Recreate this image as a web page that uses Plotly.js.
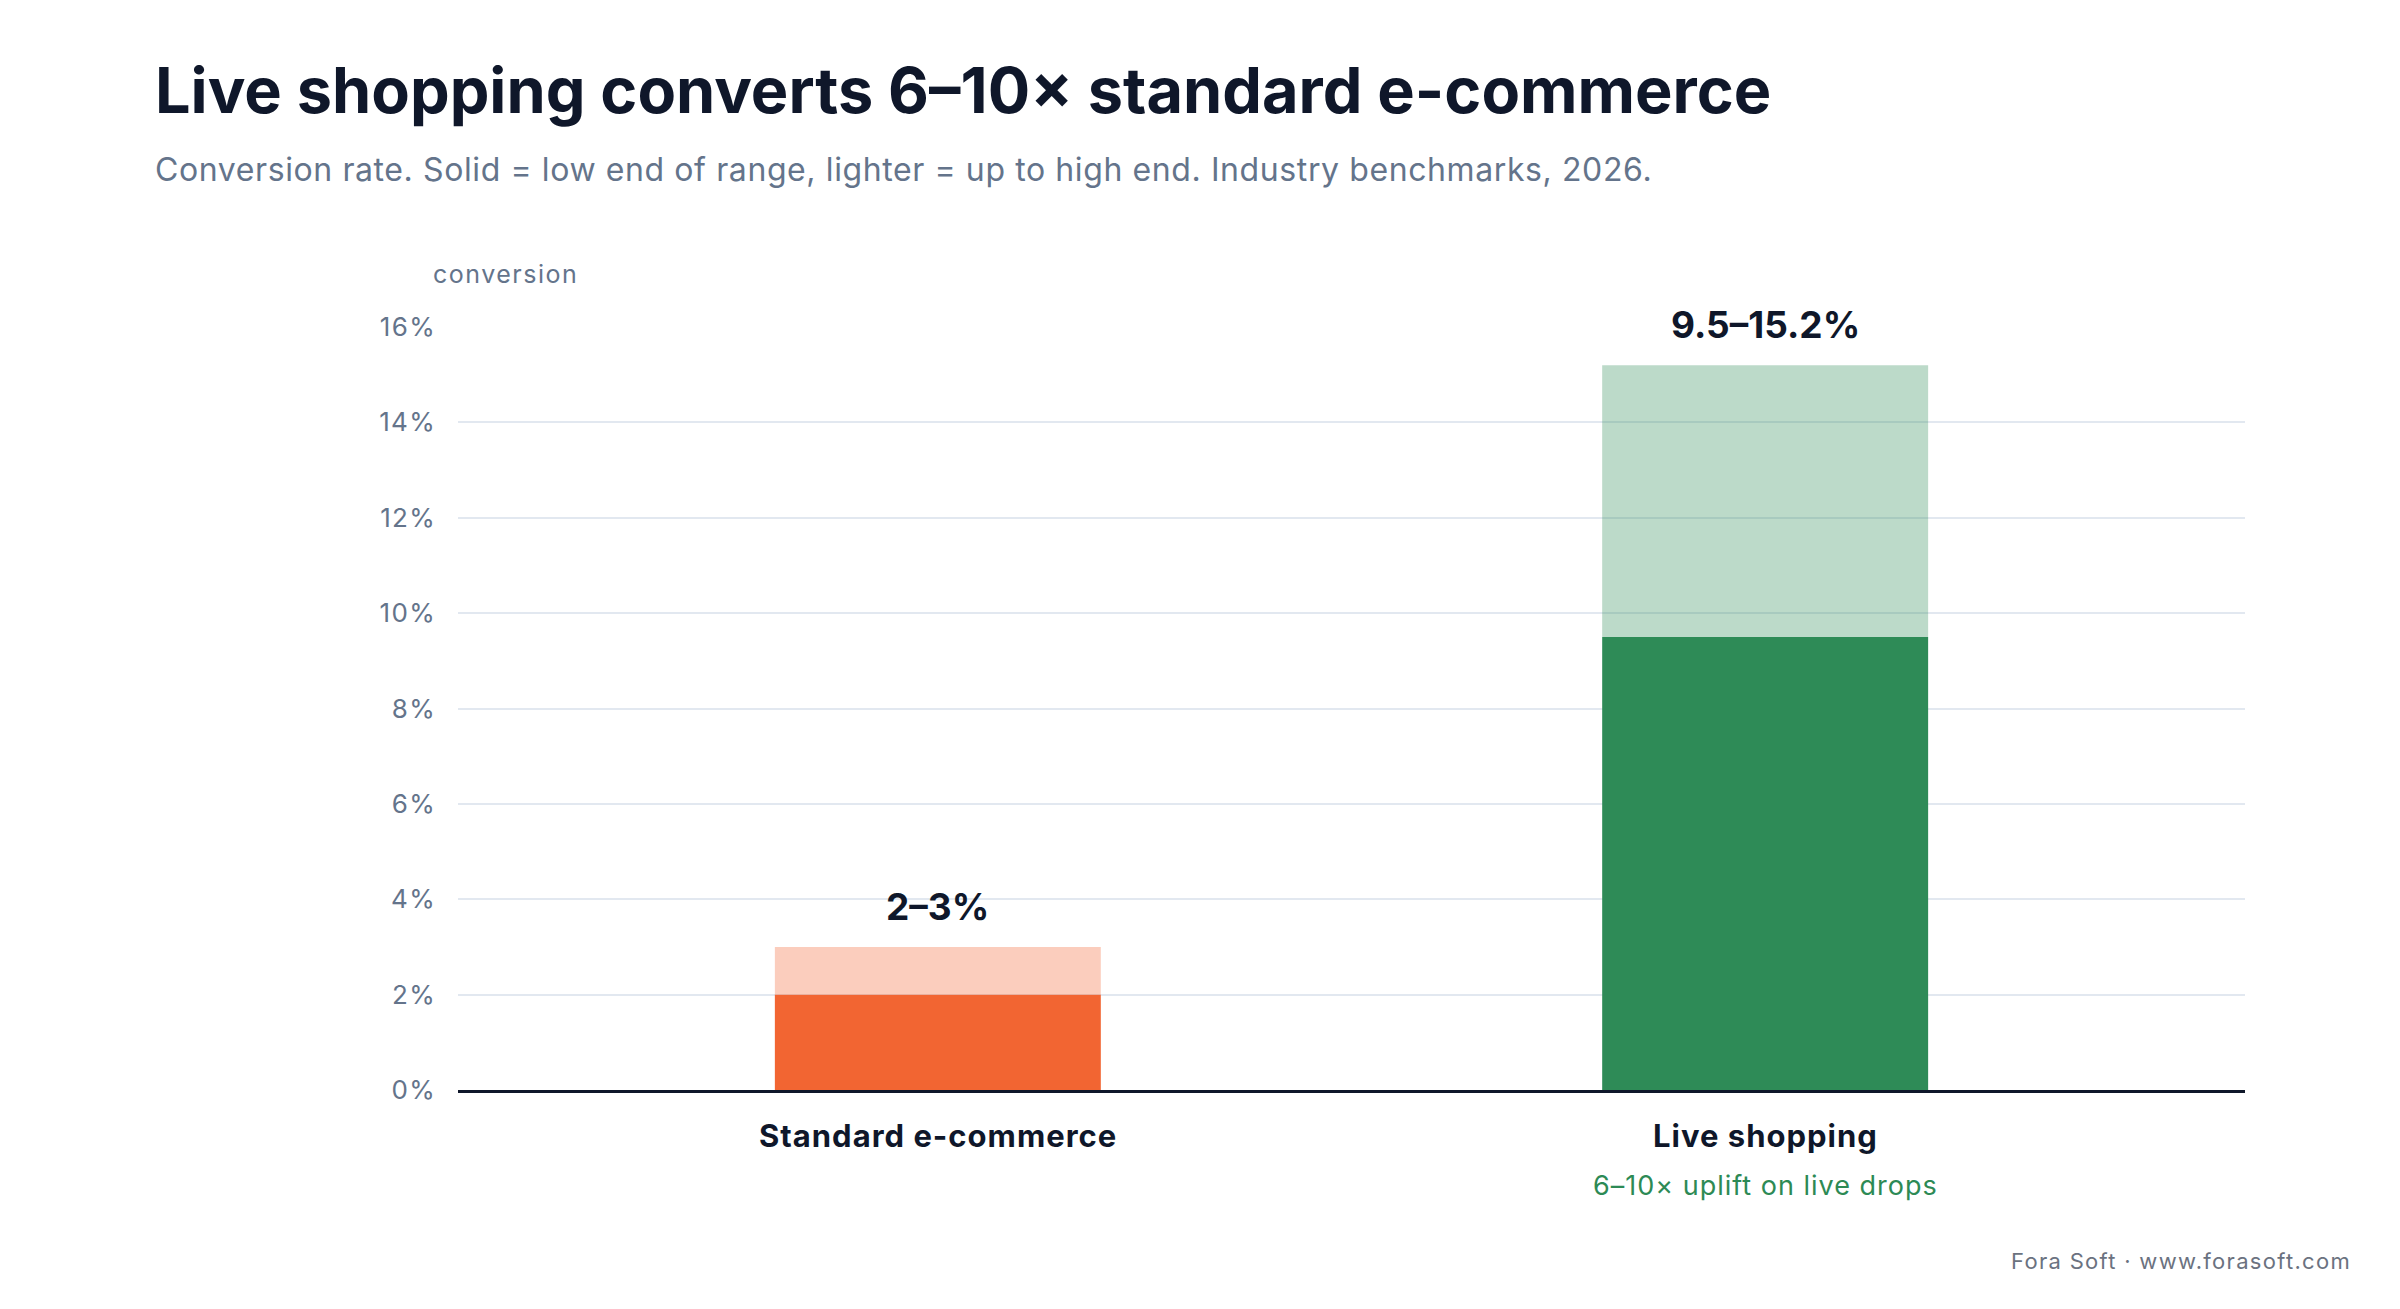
<!DOCTYPE html>
<html>
<head>
<meta charset="utf-8">
<script src="https://cdn.plot.ly/plotly-3.0.1.min.js"></script>
<style>
  html, body { margin: 0; padding: 0; background: #ffffff; }
  #chart { width: 2400px; height: 1309px; }
</style>
</head>
<body>
<div id="chart"></div>
<script>
// data
const categories = ['Standard e-commerce', 'Live shopping'];
const lowEnd = [2, 9.5];
const highEnd = [3, 15.2];
const rangeLabels = ['2–3%', '9.5–15.2%'];
const subLabels = ['', '6–10× uplift on live drops'];
const yTicks = [0, 2, 4, 6, 8, 10, 12, 14, 16];

const solidColors = ['#f26532', '#2e8b57'];
const lightColors = ['rgba(242,101,50,0.32)', 'rgba(46,139,87,0.32)'];

const FONT = 'Inter, "Noto Sans", sans-serif';
const INK = '#0f172a';
const SLATE = '#64748b';

// plot box in pixels
const W = 2400, H = 1309;
const ml = 458, mr = 155, mt = 327, mb = 219;
const plotW = W - ml - mr, plotH = H - mt - mb;

// pixel -> paper helpers (for the text around the plot)
function px(x) { return (x - ml) / plotW; }
function py(y) { return (H - mb - y) / plotH; }

// small text in the original is a bit looser than Inter here
function spaced(t, s) {
  return '<span style="letter-spacing:' + s + 'px">' + t + '</span>';
}

let solid = {
  type: 'bar',
  x: categories,
  y: lowEnd,
  width: 0.394,
  marker: { color: solidColors, line: { width: 0 } },
  hoverinfo: 'skip'
};

let light = {
  type: 'bar',
  x: categories,
  y: highEnd.map((h, i) => h - lowEnd[i]),
  base: lowEnd,
  width: 0.394,
  marker: { color: lightColors, line: { width: 0 } },
  hoverinfo: 'skip'
};

let annotations = [];

for (let i = 0; i < categories.length; i++) {
  // range labels over the bars
  annotations.push({
    x: categories[i], y: highEnd[i], xref: 'x', yref: 'y',
    text: '<b>' + rangeLabels[i] + '</b>',
    showarrow: false, xanchor: 'center', yanchor: 'bottom', yshift: 16,
    font: { family: FONT, size: 37, color: INK }
  });
  // category names under the axis
  annotations.push({
    x: categories[i], y: 0, xref: 'x', yref: 'paper',
    text: '<b>' + spaced(categories[i], 1) + '</b>',
    showarrow: false, xanchor: 'center', yanchor: 'top', yshift: -25,
    font: { family: FONT, size: 31, color: INK }
  });
  if (subLabels[i]) {
    annotations.push({
      x: categories[i], y: 0, xref: 'x', yref: 'paper',
      text: spaced(subLabels[i], 1),
      showarrow: false, xanchor: 'center', yanchor: 'top', yshift: -77,
      font: { family: FONT, size: 27, color: '#2d8a55' }
    });
  }
}

// headline, subtitle, axis caption, footer
annotations.push({
  x: px(153), y: py(50), xref: 'paper', yref: 'paper',
  text: '<b>Live shopping converts 6–10× standard e-commerce</b>',
  showarrow: false, xanchor: 'left', yanchor: 'top',
  font: { family: FONT, size: 63, color: INK }
});
annotations.push({
  x: px(153), y: py(148), xref: 'paper', yref: 'paper',
  text: spaced('Conversion rate. Solid = low end of range, lighter = up to high end. Industry benchmarks, 2026.', 0.6),
  showarrow: false, xanchor: 'left', yanchor: 'top',
  font: { family: FONT, size: 32, color: SLATE }
});
annotations.push({
  x: px(431), y: py(257), xref: 'paper', yref: 'paper',
  text: spaced('conversion', 1.5),
  showarrow: false, xanchor: 'left', yanchor: 'top',
  font: { family: FONT, size: 25, color: SLATE }
});
annotations.push({
  x: px(2353), y: py(1246), xref: 'paper', yref: 'paper',
  text: spaced('Fora Soft · www.forasoft.com', 1.3),
  showarrow: false, xanchor: 'right', yanchor: 'top',
  font: { family: FONT, size: 22, color: '#6b7280' }
});

let layout = {
  width: W,
  height: H,
  paper_bgcolor: '#ffffff',
  plot_bgcolor: '#ffffff',
  margin: { l: ml, r: mr, t: mt, b: mb, pad: 0 },
  barmode: 'overlay',
  showlegend: false,
  font: { family: FONT, color: SLATE },
  xaxis: {
    type: 'category',
    range: [-0.58, 1.58],
    showticklabels: false,
    showgrid: false,
    zeroline: false,
    showline: true,
    linecolor: INK,
    linewidth: 3,
    ticks: ''
  },
  yaxis: {
    range: [0, 16],
    tickvals: yTicks,
    ticktext: yTicks.map(v => spaced(v + '%', 1.3)),
    tickfont: { family: FONT, size: 26, color: SLATE },
    ticks: '',
    ticklabelstandoff: 21,
    showgrid: true,
    gridcolor: '#e2e8f0',
    gridwidth: 2,
    zeroline: false,
    showline: false,
    fixedrange: true
  },
  annotations: annotations
};

Plotly.newPlot('chart', [solid, light], layout, { displayModeBar: false, staticPlot: true });
</script>
</body>
</html>
